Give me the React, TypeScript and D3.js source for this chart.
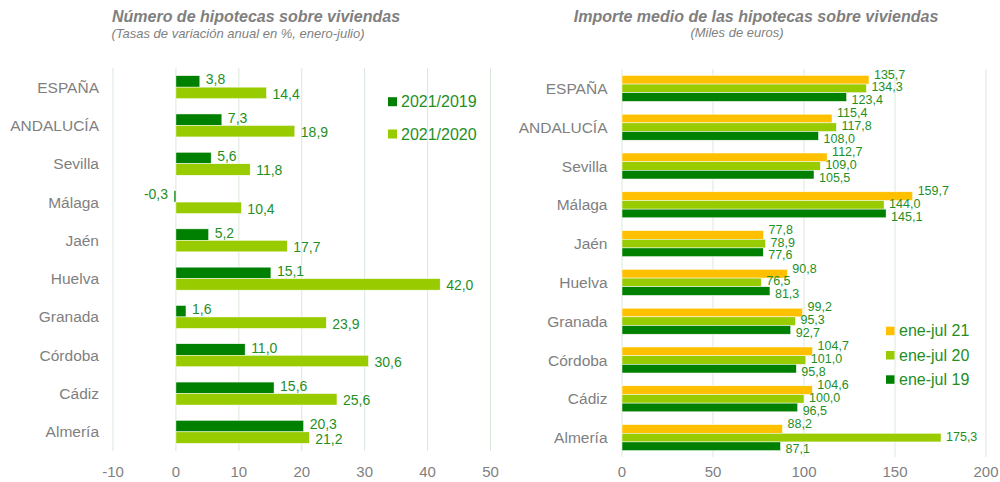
import React from "react";
import * as d3 from "d3";

const categories = ["ESPAÑA", "ANDALUCÍA", "Sevilla", "Málaga", "Jaén", "Huelva", "Granada", "Córdoba", "Cádiz", "Almería"];

// Left chart: annual variation rates (%)
const leftSeriesNames = ["2021/2019", "2021/2020"];
const var2021_2019 = [3.8, 7.3, 5.6, -0.3, 5.2, 15.1, 1.6, 11.0, 15.6, 20.3];
const var2021_2020 = [14.4, 18.9, 11.8, 10.4, 17.7, 42.0, 23.9, 30.6, 25.6, 21.2];
const leftTicks = [-10, 0, 10, 20, 30, 40, 50];

// Right chart: average amount (thousand euros)
const rightSeriesNames = ["ene-jul 21", "ene-jul 20", "ene-jul 19"];
const eneJul21 = [135.7, 115.4, 112.7, 159.7, 77.8, 90.8, 99.2, 104.7, 104.6, 88.2];
const eneJul20 = [134.3, 117.8, 109.0, 144.0, 78.9, 76.5, 95.3, 101.0, 100.0, 175.3];
const eneJul19 = [123.4, 108.0, 105.5, 145.1, 77.6, 81.3, 92.7, 95.8, 96.5, 87.1];
const rightTicks = [0, 50, 100, 150, 200];

const FONT = "'Liberation Sans', Arial, sans-serif";
const GREY = "#7f7f7f";
const LABEL = "#1f8f1f";
const DARK = "#008000";
const LIGHT = "#99cc00";
const YELLOW = "#ffc000";
const GRID = "#dbe7db";

const fmt = (v: number) => v.toFixed(1).replace(".", ",");

export default function App() {
  const W = 1000, H = 482;

  // Left chart scales
  const xL = d3.scaleLinear().domain([-10, 50]).range([113, 490.5]);
  const yL = d3.scaleBand<string>().domain(categories).range([68, 451]).paddingInner(0.4).paddingOuter(0.2);
  const subL = d3.scaleBand<number>().domain([0, 1]).range([0, yL.bandwidth()]);
  const leftData = [var2021_2019, var2021_2020];
  const leftColors = [DARK, LIGHT];
  const leftDy = [-2, 1];

  // Right chart scales
  const xR = d3.scaleLinear().domain([0, 200]).range([622, 986]);
  const yR = d3.scaleBand<string>().domain(categories).range([69, 457]).paddingInner(0.33).paddingOuter(0.165);
  const subR = d3.scaleBand<number>().domain([0, 1, 2]).range([0, yR.bandwidth()]);
  const rightData = [eneJul21, eneJul20, eneJul19];
  const rightColors = [YELLOW, LIGHT, DARK];

  return (
    <svg width={W} height={H} style={{ position: "absolute", left: 0, top: 0, fontFamily: FONT }}>
      <rect width={W} height={H} fill="#ffffff" />

      {/* Titles */}
      <text x={256} y={16} textAnchor="middle" dominantBaseline="central" fontSize={16} fontWeight="bold" fontStyle="italic" fill={GREY}>
        Número de hipotecas sobre viviendas
      </text>
      <text x={238} y={33} textAnchor="middle" dominantBaseline="central" fontSize={13} fontStyle="italic" fill={GREY}>
        (Tasas de variación anual en %, enero-julio)
      </text>
      <text x={756} y={16} textAnchor="middle" dominantBaseline="central" fontSize={16} fontWeight="bold" fontStyle="italic" fill={GREY}>
        Importe medio de las hipotecas sobre viviendas
      </text>
      <text x={737} y={32} textAnchor="middle" dominantBaseline="central" fontSize={13} fontStyle="italic" fill={GREY}>
        (Miles de euros)
      </text>

      {/* Left grid */}
      {leftTicks.map((t) => (
        <g key={"lt" + t}>
          <line x1={xL(t)} x2={xL(t)} y1={68} y2={451} stroke={GRID} strokeWidth={1} />
          <text x={xL(t)} y={471} textAnchor="middle" dominantBaseline="central" fontSize={15} fill={GREY}>{t}</text>
        </g>
      ))}
      {categories.map((c) => (
        <text key={"lc" + c} x={99} y={(yL(c) as number) + yL.bandwidth() / 2} textAnchor="end" dominantBaseline="central" fontSize={15.5} fill={GREY}>{c}</text>
      ))}
      {leftData.map((series, si) =>
        series.map((v, i) => {
          const c = categories[i];
          const y0 = (yL(c) as number) + (subL(si) as number);
          const x0 = xL(Math.min(0, v));
          const x1 = xL(Math.max(0, v));
          const cy = y0 + subL.bandwidth() / 2 + leftDy[si];
          return (
            <g key={`lb${si}-${i}`}>
              <rect x={x0} y={y0} width={x1 - x0} height={subL.bandwidth()} fill={leftColors[si]} stroke="#ffffff" strokeWidth={0.5} />
              <text x={v < 0 ? x0 - 6 : x1 + 6} y={cy} textAnchor={v < 0 ? "end" : "start"} dominantBaseline="central" fontSize={14} fill={LABEL}>{fmt(v)}</text>
            </g>
          );
        })
      )}
      {/* Left legend */}
      {leftSeriesNames.map((n, i) => (
        <g key={"ll" + n}>
          <rect x={388} y={101.7 + i * 32.3 - 4.5} width={9} height={9} fill={leftColors[i]} />
          <text x={401} y={101.7 + i * 32.3} dominantBaseline="central" fontSize={16} fill={LABEL}>{n}</text>
        </g>
      ))}

      {/* Right grid */}
      {rightTicks.map((t) => (
        <g key={"rt" + t}>
          <line x1={xR(t)} x2={xR(t)} y1={69} y2={457} stroke={GRID} strokeWidth={1} />
          <text x={xR(t)} y={471} textAnchor="middle" dominantBaseline="central" fontSize={15} fill={GREY}>{t}</text>
        </g>
      ))}
      {categories.map((c) => (
        <text key={"rc" + c} x={607.5} y={(yR(c) as number) + yR.bandwidth() / 2} textAnchor="end" dominantBaseline="central" fontSize={15.5} fill={GREY}>{c}</text>
      ))}
      {rightData.map((series, si) =>
        series.map((v, i) => {
          const c = categories[i];
          const y0 = (yR(c) as number) + (subR(si) as number);
          const mid = (yR(c) as number) + yR.bandwidth() / 2;
          const ly = mid - 1 + (si - 1) * 12.8;
          return (
            <g key={`rb${si}-${i}`}>
              <rect x={xR(0)} y={y0} width={xR(v) - xR(0)} height={subR.bandwidth()} fill={rightColors[si]} stroke="#ffffff" strokeWidth={0.5} />
              <text x={xR(v) + 5} y={ly} dominantBaseline="central" fontSize={12.5} fill={LABEL}>{fmt(v)}</text>
            </g>
          );
        })
      )}
      {/* Right legend */}
      {rightSeriesNames.map((n, i) => (
        <g key={"rl" + n}>
          <rect x={886} y={330.7 + i * 24.3 - 4} width={8.5} height={8.5} fill={rightColors[i]} />
          <text x={899} y={330.7 + i * 24.3} dominantBaseline="central" fontSize={16} fill={LABEL}>{n}</text>
        </g>
      ))}
    </svg>
  );
}
